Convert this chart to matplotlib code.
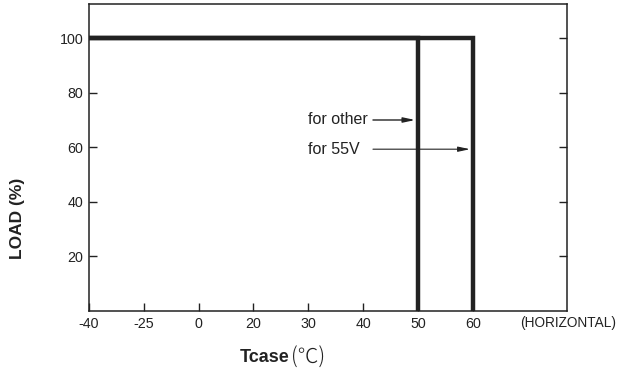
import matplotlib.pyplot as plt
import numpy as np

plt.rcParams["font.family"] = ["Liberation Sans", "DejaVu Sans"]

# tick temperatures (the axis is drawn with equal spacing between them)
TEMP_TICKS = [-40, -25, 0, 20, 30, 40, 50, 60]
LOAD_TICKS = [20, 40, 60, 80, 100]

# derating curves: (Tcase, load %)
other_temp = [-40, 50, 50]
other_load = [100, 100, 0]
v55_temp = [-40, 60, 60]
v55_load = [100, 100, 0]

LINE_COLOR = "#222222"


def pos(t):
    """Map a temperature onto the evenly spaced tick positions."""
    return np.interp(t, TEMP_TICKS, np.arange(len(TEMP_TICKS)))


fig = plt.figure(figsize=(6.18, 3.75), dpi=100)
ax = fig.add_axes([0.144, 0.1707, 0.7735, 0.8178])

ax.plot(pos(other_temp), other_load, color=LINE_COLOR, lw=3.2, solid_joinstyle="miter", zorder=3)
ax.plot(pos(v55_temp), v55_load, color=LINE_COLOR, lw=3.2, solid_joinstyle="miter", zorder=3)

ax.set_xlim(0, 8.72)
ax.set_ylim(0, 112.4)

ax.set_xticks(np.arange(len(TEMP_TICKS)))
ax.set_xticklabels([str(t) for t in TEMP_TICKS])
ax.set_yticks(LOAD_TICKS)
ax.set_yticklabels([str(v) for v in LOAD_TICKS])
ax.tick_params(axis="both", direction="in", length=6, width=1, labelsize=10.3, colors="#222222", pad=4)
ax.tick_params(axis="y", right=True)
for s in ax.spines.values():
    s.set_linewidth(1.1)
    s.set_color("#222222")

# annotations
ax.text(pos(30), 70, "for other", fontsize=11.5, va="center", ha="left", color="#222222")
ax.annotate("", xy=(pos(49.5), 70), xytext=(pos(41.8), 70),
            arrowprops=dict(arrowstyle="-|>,head_length=0.7,head_width=0.15",
                            color="#222222", lw=1, shrinkA=0, shrinkB=0))
ax.text(pos(30), 59.3, "for 55V", fontsize=11.5, va="center", ha="left", color="#222222")
ax.annotate("", xy=(pos(59.5), 59.3), xytext=(pos(41.8), 59.3),
            arrowprops=dict(arrowstyle="-|>,head_length=0.7,head_width=0.15",
                            color="#222222", lw=0.8, shrinkA=0, shrinkB=0))

fig.text(520 / 618, 1 - 323.5 / 375, "(HORIZONTAL)", fontsize=9.8,
         ha="left", va="center", color="#222222")

# axis labels
fig.text(18 / 618, 1 - 218 / 375, "LOAD (%)", rotation=90, fontsize=12.5,
         fontweight="bold", ha="center", va="center", color="#222222")
fig.text(290 / 618, 1 - 358 / 375, "Tcase", fontsize=13, fontweight="bold",
         ha="right", va="center", color="#222222")
fig.text(291 / 618, 1 - 358 / 375, "(℃)", fontsize=15,
         family=["Noto Sans CJK JP", "DejaVu Sans"], fontweight="light",
         ha="left", va="center", color="#222222")

fig.savefig("out.png", dpi=100)
